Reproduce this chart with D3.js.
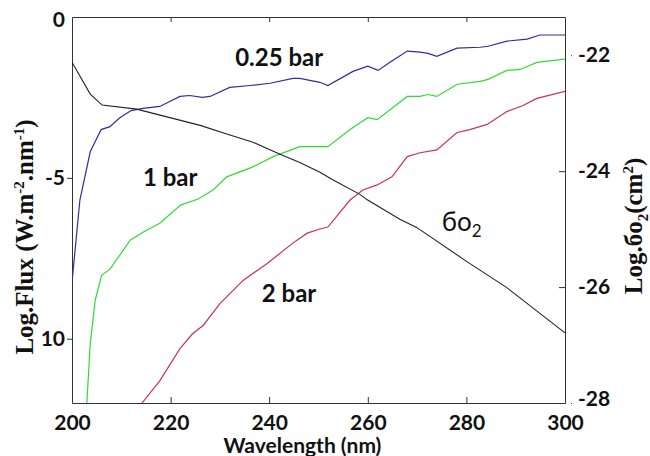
<!DOCTYPE html>
<html>
<head>
<meta charset="utf-8">
<script src="https://cdn.jsdelivr.net/npm/d3@7"></script>
<style>
  body { margin: 0; background: #fff; }
  .tick-lbl { font-family: Lato, "Open Sans", sans-serif; font-weight: 700; font-size: 21px; fill: #111; }
  .ann { font-family: Lato, "Open Sans", sans-serif; font-weight: 700; font-size: 24px; fill: #111; }
  .xttl { font-family: Lato, "Open Sans", sans-serif; font-weight: 700; font-size: 21px; fill: #111; }
  .ttl { font-family: "Liberation Serif", "DejaVu Serif", serif; font-weight: 700; font-size: 25px; fill: #111; }
</style>
</head>
<body>
<div class="chart"></div>
<script>
// wavelength (nm) / log flux, per pressure
const blueWl  = [200, 201.6, 203.7, 205.9, 207.7, 209.7, 212.0, 214.4, 217.8, 221.9, 223.9, 226.4, 228.0, 232.0, 236.1, 240.2, 244.8, 246.2, 250.3, 251.9, 257.0, 260.0, 262.1, 264.5, 268.0, 270.6, 272.2, 274.0, 278.1, 282.8, 284.4, 288.2, 292.3, 294.9, 300];
const blueFlux = [-8.25, -5.69, -4.19, -3.5, -3.41, -3.13, -2.91, -2.84, -2.78, -2.47, -2.44, -2.5, -2.47, -2.19, -2.13, -2.06, -1.91, -1.91, -2.03, -2.13, -1.69, -1.53, -1.66, -1.41, -1.06, -1.09, -1.13, -1.22, -0.97, -0.94, -0.91, -0.75, -0.69, -0.56, -0.56];

const greenWl  = [203.0, 203.7, 204.7, 206.0, 207.7, 211.8, 214.4, 217.8, 222.1, 225.6, 228.6, 231.4, 236.7, 240.8, 246.2, 251.9, 256.4, 260.0, 261.9, 268.0, 270.6, 272.2, 274.0, 278.1, 282.8, 284.4, 288.2, 290.9, 294.3, 300];
const greenFlux = [-12.03, -10.16, -8.81, -8.03, -7.84, -6.94, -6.69, -6.41, -5.84, -5.66, -5.38, -4.97, -4.66, -4.34, -4.03, -4.03, -3.5, -3.13, -3.19, -2.47, -2.47, -2.41, -2.47, -2.09, -2.0, -1.94, -1.66, -1.63, -1.41, -1.31];

const redWl  = [214.2, 217.8, 221.9, 224.5, 226.6, 230.0, 234.7, 239.6, 244.8, 247.7, 250.3, 251.9, 256.4, 259.0, 261.9, 264.9, 268.0, 270.6, 274.0, 278.1, 280.7, 284.2, 288.2, 291.5, 294.3, 300];
const redFlux = [-12.0, -11.31, -10.31, -9.84, -9.59, -8.91, -8.19, -7.66, -7.03, -6.72, -6.59, -6.53, -5.69, -5.38, -5.22, -4.97, -4.34, -4.22, -4.13, -3.59, -3.5, -3.34, -2.94, -2.75, -2.53, -2.31];

// O2 cross section (right axis)
const sigmaWl = [200, 203.7, 206.1, 213.1, 226.0, 231.4, 236.7, 242.2, 246.2, 250.3, 252.7, 258.4, 259.8, 266.5, 269.9, 280.1, 288.2, 300];
const sigmaVal = [-22.12, -22.67, -22.86, -22.93, -23.21, -23.36, -23.50, -23.71, -23.85, -24.02, -24.14, -24.40, -24.49, -24.83, -24.97, -25.56, -26.01, -26.79];

const xTicks = [200, 220, 240, 260, 280, 300];
const leftTicks = [0, -5, -10];
const leftTickLabels = ["0", "-5", "10"];
const rightTicks = [-22, -24, -26, -28];
const rightTickLabels = ["-22", "-24", "-26", "-28"];

const width = 650, height = 456;
const margin = { left: 72, right: 85, top: 17, bottom: 53 };

const x = d3.scaleLinear().domain([200, 300]).range([margin.left, width - margin.right]);
const yL = d3.scaleLinear().domain([-12, 0]).range([height - margin.bottom, margin.top]);
const yR = d3.scaleLinear().domain([-28, -21.34]).range([height - margin.bottom, margin.top]);

const svg = d3.select(".chart").append("svg")
    .attr("width", width)
    .attr("height", height);

svg.append("clipPath").attr("id", "plotclip")
    .append("rect")
    .attr("x", margin.left).attr("y", margin.top)
    .attr("width", x(300) - x(200)).attr("height", yL(-12) - yL(0));

// x axis bottom, ticks inside
const xAxis = svg.append("g")
    .attr("transform", `translate(0,${yL(-12)})`)
    .call(d3.axisBottom(x).tickValues(xTicks).tickSize(-6).tickSizeOuter(0).tickPadding(12));
xAxis.selectAll("text").attr("class", "tick-lbl").attr("fill", null);

// x axis top, ticks inside, no labels
svg.append("g")
    .attr("transform", `translate(0,${yL(0)})`)
    .call(d3.axisTop(x).tickValues(xTicks.slice(1, -1)).tickSize(-5).tickSizeOuter(0).tickFormat(""));

// left axis
const yAxisL = svg.append("g")
    .attr("transform", `translate(${x(200)},0)`)
    .call(d3.axisLeft(yL).tickValues(leftTicks).tickSize(5).tickSizeOuter(0).tickPadding(2)
        .tickFormat((d, i) => leftTickLabels[i]));
yAxisL.selectAll("text").attr("class", "tick-lbl").attr("fill", null);
yAxisL.selectAll(".tick").filter(d => d === 0).select("line").remove();
yAxisL.selectAll(".tick").filter(d => d === 0).select("text").attr("dy", "0.45em");

// right axis
const yAxisR = svg.append("g")
    .attr("transform", `translate(${x(300)},0)`)
    .call(d3.axisRight(yR).tickValues(rightTicks).tickSize(-6).tickSizeOuter(0).tickPadding(13)
        .tickFormat((d, i) => rightTickLabels[i]));
yAxisR.selectAll("text").attr("class", "tick-lbl").attr("fill", null);
yAxisR.selectAll(".tick").filter(d => d === -22 || d === -28).select("line")
    .attr("x1", 6).attr("x2", 7);
yAxisR.selectAll(".tick").filter(d => d === -28).select("text").attr("dy", "0.1em");

svg.selectAll(".domain").attr("stroke", "#333");
svg.selectAll(".tick line").attr("stroke", "#333");

const line = d3.line().x(d => x(d[0]));

const plot = svg.append("g").attr("clip-path", "url(#plotclip)");

function drawFlux(wl, flux, color) {
    plot.append("path")
        .datum(d3.zip(wl, flux))
        .attr("fill", "none")
        .attr("stroke", color)
        .attr("stroke-width", 1.2)
        .attr("d", line.y(d => yL(d[1])));
}

drawFlux(greenWl, greenFlux, "#2fdc35");
drawFlux(redWl, redFlux, "#c8344f");
drawFlux(blueWl, blueFlux, "#2e2ea0");

plot.append("path")
    .datum(d3.zip(sigmaWl, sigmaVal))
    .attr("fill", "none")
    .attr("stroke", "#222")
    .attr("stroke-width", 1.1)
    .attr("d", d3.line().x(d => x(d[0])).y(d => yR(d[1])));

// annotations
svg.append("text").attr("class", "ann").attr("x", x(233.1)).attr("y", yL(-1.52)).text("0.25 bar");
svg.append("text").attr("class", "ann").attr("x", x(214.4)).attr("y", yL(-5.25)).text("1 bar");
svg.append("text").attr("class", "ann").attr("x", x(238.5)).attr("y", yL(-8.86)).text("2 bar");

const sig = svg.append("text")
    .attr("x", x(275.0)).attr("y", yL(-6.65))
    .attr("font-family", "Lato, 'Open Sans', sans-serif")
    .attr("font-size", 26)
    .attr("fill", "#111");
sig.append("tspan").text("бo");
sig.append("tspan").attr("font-size", 17).attr("dy", 6).text("2");

// axis titles
const tl = svg.append("text")
    .attr("class", "ttl")
    .attr("text-anchor", "middle")
    .attr("transform", `translate(33,${(yL(0) + yL(-12)) / 2 + 27}) rotate(-90)`);
tl.append("tspan").text("Log.Flux (W.m");
tl.append("tspan").attr("font-size", 15).attr("dy", -9).text("-2");
tl.append("tspan").attr("dy", 9).text(".nm");
tl.append("tspan").attr("font-size", 15).attr("dy", -9).text("-1");
tl.append("tspan").attr("dy", 9).text(")");

const tr = svg.append("text")
    .attr("class", "ttl")
    .attr("text-anchor", "middle")
    .attr("transform", `translate(642,226) rotate(-90)`);
tr.append("tspan").text("Log.бo");
tr.append("tspan").attr("font-size", 15).attr("dy", 6).text("2");
tr.append("tspan").attr("dy", -6).text("(cm");
tr.append("tspan").attr("font-size", 15).attr("dy", -9).text("2");
tr.append("tspan").attr("dy", 9).text(")");

svg.append("text")
    .attr("class", "xttl")
    .attr("text-anchor", "middle")
    .attr("x", (x(200) + x(300)) / 2 - 16)
    .attr("y", 453)
    .text("Wavelength (nm)");
</script>
</body>
</html>
